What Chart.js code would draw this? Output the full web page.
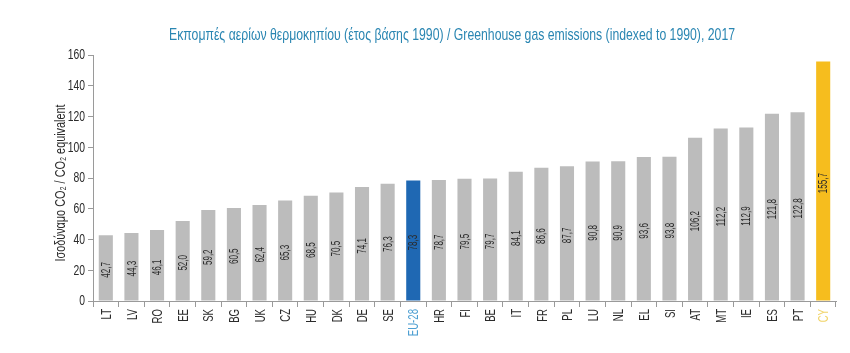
<!DOCTYPE html>
<html><head><meta charset="utf-8">
<script src="https://cdn.jsdelivr.net/npm/chart.js@4.4.0/dist/chart.umd.min.js"></script>
<style>html,body{margin:0;padding:0;background:#fff}#wrap{width:850px;height:353px}</style>
</head><body><div id="wrap"><canvas id="c" width="850" height="353"></canvas></div>
<script>
const categories = ["LT","LV","RO","EE","SK","BG","UK","CZ","HU","DK","DE","SE","EU-28","HR","FI","BE","IT","FR","PL","LU","NL","EL","SI","AT","MT","IE","ES","PT","CY"];
const values = [42.7,44.3,46.1,52.0,59.2,60.5,62.4,65.3,68.5,70.5,74.1,76.3,78.3,78.7,79.5,79.7,84.1,86.6,87.7,90.8,90.9,93.6,93.8,106.2,112.2,112.9,121.8,122.8,155.7];
const yTicks = [0,20,40,60,80,100,120,140,160];
const titleText = "Εκπομπές αερίων θερμοκηπίου (έτος βάσης 1990) / Greenhouse gas emissions (indexed to 1990), 2017";
const yTitle = "Ισοδύναμο CO₂ / CO₂ equivalent";

const FONT = '"Liberation Sans","DejaVu Sans",sans-serif';
const barColors = categories.map(c => c === "EU-28" ? "#1f68b3" : (c === "CY" ? "#f6bd1e" : "#bcbcbc"));
const labelColors = categories.map(c => c === "EU-28" ? "#4d9fd2" : (c === "CY" ? "#f1d46a" : "#2b2b2b"));

// draw text condensed along its own direction
function condText(ctx, text, x, y, opts) {
  ctx.save();
  ctx.font = opts.font;
  ctx.fillStyle = opts.color;
  ctx.textAlign = opts.align || 'center';
  ctx.textBaseline = opts.baseline || 'middle';
  ctx.translate(x, y);
  if (opts.rot) ctx.rotate(opts.rot);
  let sx = opts.sx || 1;
  if (opts.width) sx = opts.width / ctx.measureText(text).width;
  ctx.scale(sx, 1);
  ctx.fillText(text, 0, 0);
  ctx.restore();
}

const textPlugin = {
  id: 'txt',
  afterDatasetsDraw(chart) {
    const ctx = chart.ctx;
    const meta = chart.getDatasetMeta(0);
    meta.data.forEach((bar, i) => {
      const yMid = (bar.y + bar.base) / 2 + 2;
      condText(ctx, values[i].toFixed(1).replace('.', ','), bar.x + 0.5, yMid,
        { font: '13px ' + FONT, color: '#2b2b2b', rot: -Math.PI / 2, sx: 0.62 });
    });
  },
  afterDraw(chart) {
    const ctx = chart.ctx;
    const xs = chart.scales.x, ys = chart.scales.y;
    // title
    condText(ctx, titleText, 452, 35, { font: '17px ' + FONT, color: '#2a86b2', width: 566 });
    // x labels
    categories.forEach((c, i) => {
      const x = xs.getPixelForValue(i);
      condText(ctx, c, x + 1, xs.top + 8, { font: '15px ' + FONT, color: labelColors[i], rot: -Math.PI / 2, align: 'right', sx: 0.64 });
    });
    // y labels
    yTicks.forEach(v => {
      const y = ys.getPixelForValue(v);
      condText(ctx, String(v), ys.right - 8, y + 0.5, { font: '14px ' + FONT, color: '#2b2b2b', align: 'right', sx: 0.74 });
    });
    // y title
    condText(ctx, yTitle, 61, 183, { font: '15px ' + FONT, color: '#2b2b2b', rot: -Math.PI / 2, width: 157 });
  }
};

new Chart(document.getElementById('c'), {
  type: 'bar',
  data: { labels: categories, datasets: [{ data: values, backgroundColor: barColors, barPercentage: 0.55, categoryPercentage: 1.0 }] },
  options: {
    responsive: false, animation: false,
    layout: { padding: { top: 55, right: 14, left: 0, bottom: 0 } },
    plugins: { legend: { display: false }, tooltip: { enabled: false }, title: { display: false } },
    scales: {
      x: {
        grid: { display: true, drawOnChartArea: false, drawTicks: true, tickLength: 6, color: '#9a9a9a', offset: true },
        border: { color: '#9a9a9a' },
        ticks: { autoSkip: false, maxRotation: 90, minRotation: 90, color: 'rgba(0,0,0,0)', font: { family: FONT, size: 13 } },
        afterFit(s) { s.height = 52; }
      },
      y: {
        min: 0, max: 160,
        afterBuildTicks(s) { s.ticks = yTicks.map(v => ({ value: v })); },
        grid: { display: true, drawOnChartArea: false, drawTicks: true, tickLength: 5, color: '#9a9a9a' },
        border: { color: '#9a9a9a' },
        ticks: { color: 'rgba(0,0,0,0)', font: { family: FONT, size: 14 } },
        afterFit(s) { s.width = 93; }
      }
    }
  },
  plugins: [textPlugin]
});
</script></body></html>
